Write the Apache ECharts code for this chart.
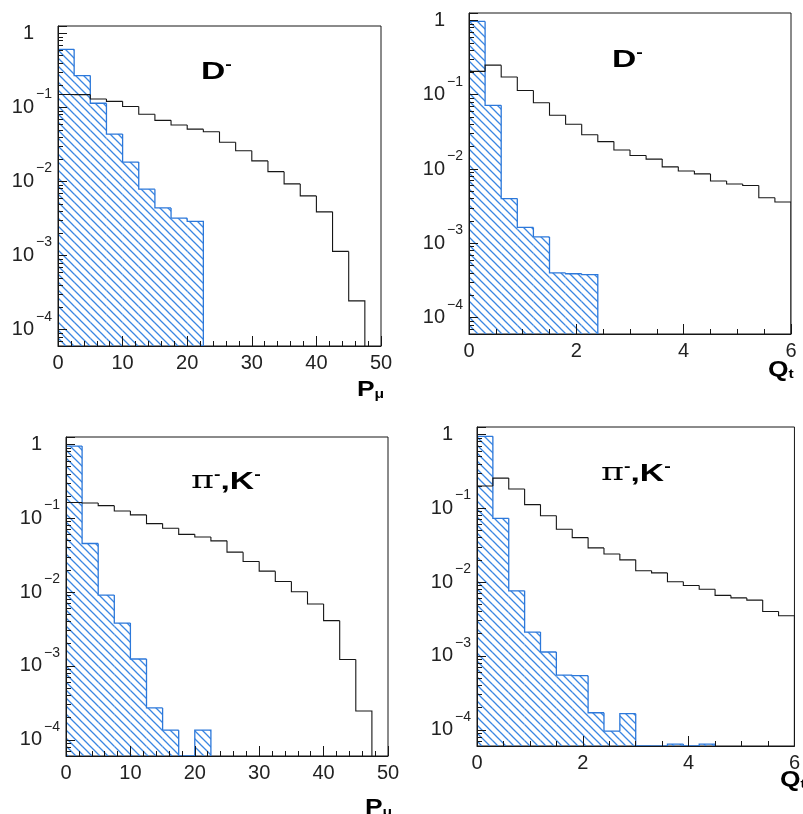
<!DOCTYPE html>
<html><head><meta charset="utf-8">
<script src="https://cdn.jsdelivr.net/npm/echarts@6/dist/echarts.min.js"></script>
<style>html,body{margin:0;padding:0;background:#fff}#c{width:803px;height:814px}</style>
</head><body><div id="c"></div>
<script>
// ---------- data ----------
const pBinWidth = 2.5;   // GeV bins for P_mu
const qBinWidth = 0.3;   // bins for Q_t
// D- : P_mu, all (open) and tagged (hatched)
const dPmuAll = [0.150, 0.149, 0.130, 0.121, 0.103, 0.081, 0.067, 0.058, 0.051, 0.047, 0.034, 0.026, 0.019, 0.0136, 0.0093, 0.0064, 0.0039, 0.00114, 0.000245];
const dPmuTag = [0.61, 0.27, 0.114, 0.0437, 0.0183, 0.0079, 0.0044, 0.0032, 0.0029];
// D- : Q_t
const dQtAll = [0.206, 0.25, 0.173, 0.114, 0.078, 0.053, 0.040, 0.029, 0.0234, 0.018, 0.0152, 0.0136, 0.0107, 0.0094, 0.0086, 0.0069, 0.0063, 0.0060, 0.0041, 0.0036];
const dQtTag = [0.97, 0.072, 0.0040, 0.00164, 0.00122, 0.00040, 0.00039, 0.00038];
// pi-,K- : P_mu
const kPmuAll = [0.163, 0.161, 0.148, 0.125, 0.111, 0.0846, 0.073, 0.0605, 0.0557, 0.0494, 0.0347, 0.0259, 0.0192, 0.0139, 0.0101, 0.0069, 0.0041, 0.00122, 0.000245];
const kPmuTag = [0.95, 0.0455, 0.0091, 0.0038, 0.00124, 0.00027, 0.000135, 0, 0.000135];
// pi-,K- : Q_t
const kQtAll = [0.20, 0.256, 0.182, 0.112, 0.079, 0.052, 0.040, 0.029, 0.024, 0.020, 0.0142, 0.0133, 0.0101, 0.0090, 0.0080, 0.0066, 0.0061, 0.0057, 0.0040, 0.0035];
const kQtTag = [0.94, 0.073, 0.0076, 0.0021, 0.00113, 0.00055, 0.00054, 0.00017, 0.000096, 0.000165, 0, 0, 0.000064, 0, 0.000064];
// axes
const pAxisTicks = [0, 10, 20, 30, 40, 50];
const qAxisTicks = [0, 2, 4, 6];
const titles = ['D', 'D', 'π,K', 'π,K'];
const axisNames = ['P', 'Q', 'P', 'Q'];

// ---------- styling ----------
const YMIN = Math.pow(10, -4.22), YMAX = Math.pow(10, 0.1);
const INK = '#161616';
const BLUE = '#2c78da';
const FONT = 'Liberation Sans';

function makeHatch(color) {
  const s = 8;
  const c = document.createElement('canvas');
  c.width = s; c.height = s;
  const ctx = c.getContext('2d');
  ctx.strokeStyle = color; ctx.lineWidth = 1.3;
  ctx.beginPath();
  ctx.moveTo(0, 0); ctx.lineTo(s, s);
  ctx.moveTo(-2, s - 2); ctx.lineTo(2, s + 2);
  ctx.moveTo(s - 2, -2); ctx.lineTo(s + 2, 2);
  ctx.stroke();
  return c;
}
const hatch = { image: makeHatch('#3a86e2'), repeat: 'repeat' };

const grids = [
  { left: 58, top: 26, width: 323, height: 320 },
  { left: 469, top: 13, width: 322, height: 321 },
  { left: 66, top: 437, width: 322, height: 319 },
  { left: 477, top: 427, width: 323, height: 319 }
];
const panels = [
  { all: dPmuAll, tag: dPmuTag, w: pBinWidth, ticks: pAxisTicks, minor: 5 },
  { all: dQtAll, tag: dQtTag, w: qBinWidth, ticks: qAxisTicks, minor: 4 },
  { all: kPmuAll, tag: kPmuTag, w: pBinWidth, ticks: pAxisTicks, minor: 5 },
  { all: kQtAll, tag: kQtTag, w: qBinWidth, ticks: qAxisTicks, minor: 4 }
];

function histSeries(idx, values, width, color, hatched) {
  const data = values.map((v, i) => [i * width, (i + 1) * width, v]);
  const last = values.length - 1;
  return {
    type: 'custom', xAxisIndex: idx, yAxisIndex: idx, data: data,
    encode: { x: [0, 1], y: 2 }, clip: true, silent: true,
    z: hatched ? 2 : 3,
    renderItem: function (params, api) {
      const i = params.dataIndexInside;
      const x0 = api.value(0), x1 = api.value(1), v = api.value(2);
      const yv = v > 0 ? v : YMIN;
      const pv = i > 0 ? api.value(2, i - 1) : 0;
      const yp = pv > 0 ? pv : YMIN;
      const a = api.coord([x0, yv]);
      const b = api.coord([x1, yv]);
      const prev = api.coord([x0, yp]);
      const bot = api.coord([x1, YMIN]);
      const children = [];
      if (hatched && v > 0) {
        children.push({ type: 'rect', shape: { x: a[0], y: a[1], width: b[0] - a[0], height: bot[1] - a[1] }, style: { fill: hatch } });
      }
      const pts = [[a[0], prev[1]], [a[0], a[1]], [b[0], b[1]]];
      if (i === last) pts.push([b[0], bot[1]]);
      children.push({ type: 'polyline', shape: { points: pts }, style: { stroke: color, lineWidth: hatched ? 1.3 : 1.1, fill: null } });
      return { type: 'group', children: children };
    }
  };
}

const xAxes = [], yAxes = [], series = [];
panels.forEach((p, i) => {
  const t = p.ticks;
  xAxes.push({
    type: 'value', gridIndex: i, min: t[0], max: t[t.length - 1], interval: t[1] - t[0], z: 10,
    axisLine: { show: true, lineStyle: { color: INK, width: 1 } },
    axisTick: { show: true, inside: true, length: 10, lineStyle: { color: INK, width: 1 } },
    minorTick: { show: true, splitNumber: p.minor, length: 5, lineStyle: { color: INK, width: 1 } },
    splitLine: { show: false },
    axisLabel: { margin: 7, fontSize: 20, color: '#222', fontFamily: FONT }
  });
  yAxes.push({
    type: 'log', logBase: 10, gridIndex: i, min: YMIN, max: YMAX, z: 10,
    axisLine: { show: true, lineStyle: { color: INK, width: 1 } },
    axisTick: { show: true, inside: true, length: 9, lineStyle: { color: INK, width: 1 } },
    minorTick: { show: true, splitNumber: 9, length: 5, lineStyle: { color: INK, width: 1 } },
    splitLine: { show: false },
    axisLabel: {
      margin: 4, showMinLabel: false, showMaxLabel: false,
      formatter: function (v) {
        const l = Math.log10(v), e = Math.round(l);
        if (Math.abs(l - e) > 1e-6) return '';
        return e === 0 ? '{a|1}{s| }' : '{a|10}{s|\u2212' + (-e) + '}';
      },
      rich: {
        a: { fontSize: 20, lineHeight: 40, verticalAlign: 'middle', fontFamily: FONT, color: '#222' },
        s: { fontSize: 14, lineHeight: 11, verticalAlign: 'top', width: 20, align: 'left', fontFamily: FONT, color: '#222' }
      }
    }
  });
  series.push(histSeries(i, p.tag, p.w, BLUE, true));
  series.push(histSeries(i, p.all, p.w, INK, false));
});

function label(x, y, text, rich, sx) {
  return { type: 'text', x: x, y: y, scaleX: sx, z: 10, silent: true,
    style: { text: text, rich: rich, textAlign: 'left', textVerticalAlign: 'top' } };
}
const titleRich = {
  b: { fontFamily: FONT, fontWeight: 'bold', fontSize: 24, lineHeight: 26, verticalAlign: 'bottom', fill: '#000' },
  p: { fontFamily: 'DejaVu Serif', fontSize: 25, lineHeight: 26, verticalAlign: 'bottom', fill: '#000' },
  s: { fontFamily: FONT, fontWeight: 'bold', fontSize: 14, lineHeight: 8, verticalAlign: 'top', fill: '#000' }
};
const nameRich = {
  b: { fontFamily: FONT, fontWeight: 'bold', fontSize: 22, lineHeight: 24, verticalAlign: 'bottom', fill: '#000' },
  s: { fontFamily: FONT, fontWeight: 'bold', fontSize: 13, lineHeight: 13, verticalAlign: 'bottom', fill: '#000' }
};
function titleText(t) {
  return t === 'D' ? '{b|D}{s|-}' : '{p|π}{s|-}{b|,K}{s|-}';
}
function nameText(n) {
  return n === 'P' ? '{b|P}{s|μ}' : '{b|Q}{s|t}';
}
const graphics = [
  label(201, 58, titleText(titles[0]), titleRich, 1.4),
  label(612, 46, titleText(titles[1]), titleRich, 1.4),
  label(191, 468, titleText(titles[2]), titleRich, 1.4),
  label(601, 460, titleText(titles[3]), titleRich, 1.4),
  label(357, 377, nameText(axisNames[0]), nameRich, 1.2),
  label(768, 357, nameText(axisNames[1]), nameRich, 1.2),
  label(365, 795, nameText(axisNames[2]), nameRich, 1.2),
  label(780, 767, nameText(axisNames[3]), nameRich, 1.2)
];

const chart = echarts.init(document.getElementById('c'), null, { renderer: 'canvas' });
chart.setOption({
  backgroundColor: '#fff',
  animation: false,
  grid: grids.map(g => Object.assign({ show: true, borderColor: INK, borderWidth: 1, backgroundColor: 'transparent' }, g)),
  xAxis: xAxes,
  yAxis: yAxes,
  series: series,
  graphic: graphics
});
</script></body></html>
